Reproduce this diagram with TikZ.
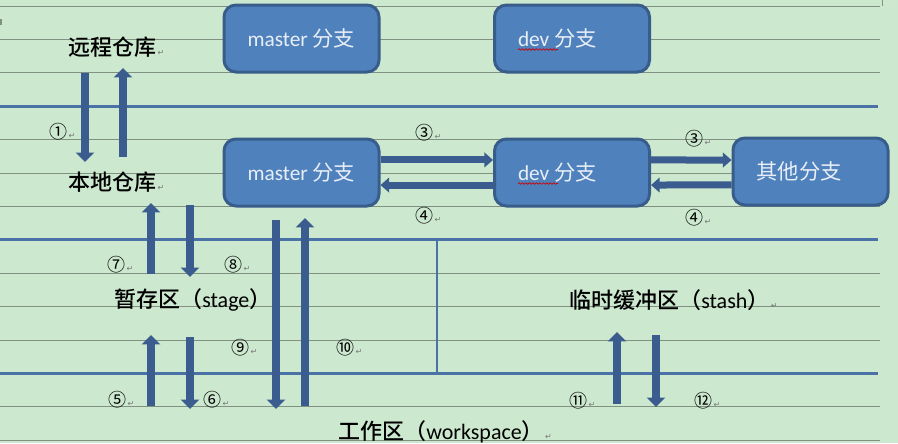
\documentclass[tikz,border=0pt]{standalone}
\usepackage{fontspec}
\setmainfont{Carlito}
\newfontfamily\cjk{Noto Sans CJK SC}
\newfontfamily\cjkm{Noto Sans CJK SC Medium}
\newfontfamily\djv{DejaVu Sans}
\usetikzlibrary{arrows.meta,decorations.pathmorphing}
\definecolor{bgc}{RGB}{204,232,207}
\definecolor{rulec}{RGB}{128,145,130}
\definecolor{bluerulec}{RGB}{74,114,166}
\definecolor{boxfill}{RGB}{79,129,189}
\definecolor{boxborder}{RGB}{56,93,138}
\definecolor{arrowc}{RGB}{58,92,142}
\definecolor{boxtext}{RGB}{232,238,246}
\definecolor{retc}{RGB}{120,120,120}
\newcommand\retm{\hspace{1pt}{\djv\fontsize{6}{6}\selectfont\textcolor{retc}{↵}}}
\begin{document}
\begin{tikzpicture}[x=0.75pt,y=-0.75pt,
  grayrule/.style={draw=rulec,line width=0.75pt},
  bluerule/.style={draw=bluerulec,line width=2pt},
  branchbox/.style={draw=boxborder,fill=boxfill,line width=2.25pt,rounded corners=9pt,
    minimum width=116.25pt,minimum height=50.25pt,inner sep=0pt,text=boxtext,
    font=\fontsize{16}{19}\selectfont},
  vblock/.style={draw=arrowc,line width=6pt,-{Triangle[width=13.5pt,length=7pt]}},
  hblock/.style={draw=arrowc,line width=5.25pt,-{Triangle[width=11pt,length=6.5pt]}},
  numlabel/.style={anchor=west,inner sep=0pt,font=\fontsize{13.5}{13.5}\selectfont\cjk},
  arealabel/.style={anchor=west,inner sep=0pt,text=black,font=\fontsize{16.5}{16.5}\selectfont}
]
\useasboundingbox (0,0) rectangle (898,443);
\fill[bgc] (0,0) rectangle (898,443);
% ruled lines
\foreach \yy in {6,39.4,72.8,139.6,173,206.4,273.2,306.6,340,406.8,440.2}
  \draw[grayrule] (0,\yy) -- (880,\yy);
\foreach \yy in {106.2,239.8,373.4}
  \draw[bluerule] (0,\yy) -- (878,\yy);
\draw[draw=bluerulec,line width=1.5pt] (437,239.8) -- (437,373.4);
\draw[grayrule] (882,0) -- (882,6);
\draw[draw=rulec,line width=1pt] (1,19) -- (1,25);

% branch boxes
\node[branchbox] (m1) at (301.5,38.5) {\makebox[81pt][l]{master {\cjk 分支}}};
\node[branchbox] (d1) at (572,38.5) {\makebox[81pt][l]{dev {\cjk 分支}}};
\node[branchbox] (m2) at (301.5,172.5) {\makebox[81pt][l]{master {\cjk 分支}}};
\node[branchbox] (d2) at (572,172.5) {\makebox[81pt][l]{dev {\cjk 分支}}};
\node[branchbox] (o) at (810.5,171.5) {\makebox[81pt][l]{\cjk 其他分支}};
% spell-check squiggles
\draw[red!80!black,line width=0.5pt,decorate,decoration={snake,amplitude=0.6pt,segment length=2.6pt}] (518,49.5) -- (558,49.5);
\draw[red!80!black,line width=0.5pt,decorate,decoration={snake,amplitude=0.6pt,segment length=2.6pt}] (518,183.5) -- (558,183.5);

% area labels
\node[arealabel] (remote) at (68,47) {{\cjkm 远程仓库}\retm};
\node[arealabel] (local) at (68,182) {{\cjkm 本地仓库}\retm};
\node[arealabel] (stage) at (114,300) {{\cjkm 暂存区（}stage{\cjkm ）}\retm};
\node[arealabel] (stash) at (569,300) {{\cjkm 临时缓冲区（}stash{\cjkm ）}\retm};
\node[arealabel] (work) at (338,432) {{\cjkm 工作区（}workspace{\cjkm ）}\retm};

% arrow end points
\coordinate (a1s) at (85,73);   \coordinate (a1e) at (85,162);
\coordinate (a2s) at (123,157); \coordinate (a2e) at (123,68);
\coordinate (a7s) at (151,274); \coordinate (a7e) at (151,203);
\coordinate (a8s) at (190,205); \coordinate (a8e) at (190,277);
\coordinate (a5s) at (151,406); \coordinate (a5e) at (151,335);
\coordinate (a6s) at (190,337); \coordinate (a6e) at (190,409);
\coordinate (a9s) at (276,220); \coordinate (a9e) at (276,409);
\coordinate (a10s) at (305,406); \coordinate (a10e) at (305,218);
\coordinate (a11s) at (617,404); \coordinate (a11e) at (617,332);
\coordinate (a12s) at (656,335); \coordinate (a12e) at (656,407);

\draw[vblock] (a1s) -- (a1e);
\draw[vblock] (a2s) -- (a2e);
\draw[vblock] (a7s) -- (a7e);
\draw[vblock] (a8s) -- (a8e);
\draw[vblock] (a5s) -- (a5e);
\draw[vblock] (a6s) -- (a6e);
\draw[vblock] (a9s) -- (a9e);
\draw[vblock] (a10s) -- (a10e);
\draw[vblock] (a11s) -- (a11e);
\draw[vblock] (a12s) -- (a12e);

\draw[hblock] ([yshift=9.4pt]m2.east) -- ([yshift=9.4pt]d2.west);
\draw[hblock] ([yshift=-9.4pt]d2.west) -- ([yshift=-9.4pt]m2.east);
\draw[hblock] ([yshift=9.4pt]d2.east) -- ([yshift=8.6pt]o.west);
\draw[hblock] ([yshift=-10pt]o.west) -- ([yshift=-9.4pt]d2.east);

% number labels
\node[numlabel] (n1) at (49,132) {①\retm};
\node[numlabel] (n3a) at (415,133) {③\retm};
\node[numlabel] (n4a) at (415,216) {④\retm};
\node[numlabel] (n3b) at (685,139) {③\retm};
\node[numlabel] (n4b) at (685,218) {④\retm};
\node[numlabel] (n7) at (107,265) {⑦\retm};
\node[numlabel] (n8) at (224,265) {⑧\retm};
\node[numlabel] (n5) at (108,400) {⑤\retm};
\node[numlabel] (n6) at (203,400) {⑥\retm};
\node[numlabel] (n9) at (231,348) {⑨\retm};
\node[numlabel] (n10) at (336,348) {⑩\retm};
\node[numlabel] (n11) at (569,401) {⑪\retm};
\node[numlabel] (n12) at (694,401) {⑫\retm};
\end{tikzpicture}
\end{document}
